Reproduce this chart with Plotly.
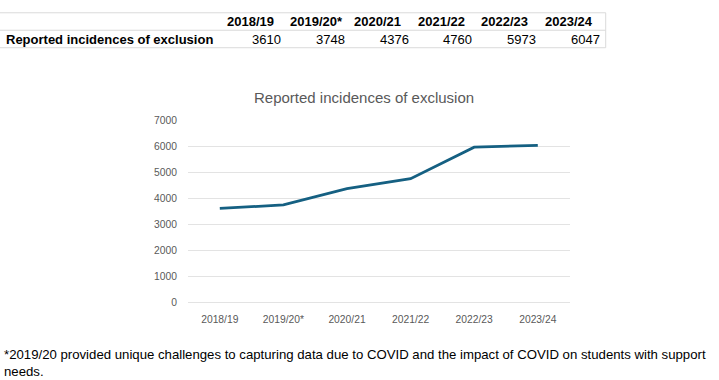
import plotly.graph_objects as go

years = ["2018/19", "2019/20*", "2020/21", "2021/22", "2022/23", "2023/24"]
incidences = [3610, 3748, 4376, 4760, 5973, 6047]
row_label = "Reported incidences of exclusion"
chart_title = "Reported incidences of exclusion"
footnote = ("*2019/20 provided unique challenges to capturing data due to COVID and the impact of COVID on students with support"
            "<br>needs.")

W, H = 719, 380
FONT = "Liberation Sans"

fig = go.Figure()

# Line chart
fig.add_trace(go.Scatter(
    x=years, y=incidences, mode="lines",
    line=dict(color="#156082", width=2.75),
    hoverinfo="skip", showlegend=False,
))

# ---- Table (built from the data arrays) ----
tbl_top, row_h = 8, 18
label_col_left = 0
first_col_left = 221.5
col_w = 63.7
tbl_right = first_col_left + col_w * len(years) + 2


def px(x):
    return x / W


def py(y):
    return 1 - y / H


for yy in [tbl_top, tbl_top + row_h, tbl_top + 2 * row_h]:
    fig.add_shape(type="line", xref="paper", yref="paper",
                  x0=0, x1=px(tbl_right), y0=py(yy), y1=py(yy),
                  line=dict(color="#dadada", width=1))
fig.add_shape(type="line", xref="paper", yref="paper",
              x0=px(tbl_right), x1=px(tbl_right), y0=py(tbl_top), y1=py(tbl_top + 2 * row_h),
              line=dict(color="#dadada", width=1))

tfont = dict(family=FONT, size=13, color="#000000")
for i, (yr, val) in enumerate(zip(years, incidences)):
    left = first_col_left + i * col_w
    fig.add_annotation(text=f"<b>{yr}</b>", xref="paper", yref="paper",
                       x=px(left + 3), y=py(tbl_top + row_h / 2 + 0.5),
                       xanchor="left", yanchor="middle", showarrow=False, font=tfont)
    fig.add_annotation(text=str(val), xref="paper", yref="paper",
                       x=px(left + col_w - 2), y=py(tbl_top + 1.5 * row_h + 0.5),
                       xanchor="right", yanchor="middle", showarrow=False, font=tfont)
fig.add_annotation(text=f"<b>{row_label}</b>", xref="paper", yref="paper",
                   x=px(label_col_left + 4), y=py(tbl_top + 1.5 * row_h + 0.5),
                   xanchor="left", yanchor="middle", showarrow=False, font=tfont)

# Chart title
fig.add_annotation(text=chart_title, xref="paper", yref="paper",
                   x=px(364), y=py(95), xanchor="center", yanchor="middle",
                   showarrow=False, font=dict(family=FONT, size=15, color="#595959"))

# Footnote
fig.add_annotation(text=footnote, xref="paper", yref="paper",
                   x=px(2), y=py(350), xanchor="left", yanchor="top", align="left",
                   showarrow=False, font=dict(family=FONT, size=13.2, color="#000000"))

fig.update_layout(
    width=W, height=H,
    margin=dict(l=0, r=0, t=0, b=0),
    paper_bgcolor="white", plot_bgcolor="white",
    showlegend=False,
    xaxis=dict(domain=[px(188), px(569.6)], type="category", range=[-0.5, 5.5],
               showgrid=False, zeroline=False, showline=False, ticks="",
               ticklabelstandoff=10,
               tickfont=dict(family=FONT, size=10.3, color="#595959")),
    yaxis=dict(domain=[py(306), py(119)], range=[0, 7000], dtick=1000,
               showgrid=True, gridcolor="#e3e3e3", gridwidth=1,
               zeroline=True, zerolinecolor="#e3e3e3", zerolinewidth=1,
               showline=False, ticks="", ticklabelstandoff=10,
               tickfont=dict(family=FONT, size=10.3, color="#595959")),
)

fig.write_html("out.html", config={"displayModeBar": False},
               post_script="document.body.style.margin='0';document.body.style.overflow='hidden';")
